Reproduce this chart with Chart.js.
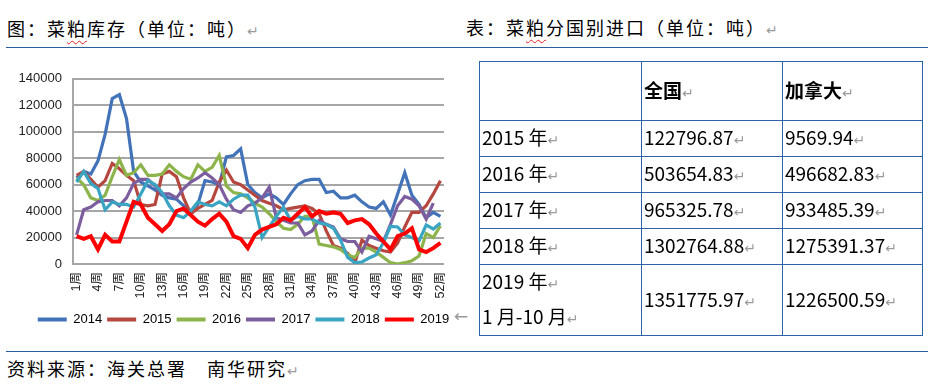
<!DOCTYPE html>
<html lang="zh-CN">
<head>
<meta charset="utf-8">
<title>菜粕库存</title>
<script src="https://cdn.jsdelivr.net/npm/chart.js@4.4.0/dist/chart.umd.min.js"></script>
<style>
  body { margin: 0; width: 928px; height: 391px; background: #fff; position: relative; overflow: hidden;
         font-family: 'Noto Sans CJK SC', sans-serif; color: #000; }
  .title { position: absolute; font-size: 18px; letter-spacing: 2px; line-height: 22px; white-space: nowrap; }
  .rm { color: #9a9a9a; font-size: 14px; letter-spacing: 0; font-weight: normal; font-family: 'DejaVu Sans', sans-serif; }
  .wavy { text-decoration: underline wavy #e02020; text-decoration-thickness: 1px; text-underline-offset: 4px; }
  .rule { position: absolute; left: 6px; width: 922px; height: 1px; background: #2b5d9c; }
  #wrap { position: absolute; left: 10px; top: 60px; width: 467px; height: 276px; }
  #imp { position: absolute; left: 479px; top: 61px; width: 443px; border-collapse: collapse; table-layout: fixed; }
  #imp td { border: 1.5px solid #2e62a8; padding: 0 0 0 2px; font-size: 19px; line-height: 31px;
            vertical-align: middle; white-space: nowrap; }
  #imp tr.head td { font-weight: bold; }
  .arrow { position: absolute; left: 454px; top: 306px; color: #999; font-size: 17px; font-family: 'DejaVu Sans', sans-serif; }
</style>
</head>
<body>

<div class="title" style="left:7px; top:17px;">图：菜<span class="wavy">粕</span>库存（单位：吨）<span class="rm">↵</span></div>
<div class="title" style="left:466px; top:16px;">表：菜<span class="wavy">粕</span>分国别进口（单位：吨）<span class="rm">↵</span></div>
<div class="rule" style="top:47px;"></div>

<div id="wrap"><canvas id="stock" width="467" height="276"></canvas></div>
<div class="arrow">←</div>

<table id="imp"></table>

<div class="rule" style="top:351px;"></div>
<div class="title" style="left:7px; top:357px;">资料来源：海关总署　南华研究<span class="rm">↵</span></div>

<script>
// 周次
const weeks = ['1周', '2周', '3周', '4周', '5周', '6周', '7周', '8周', '9周', '10周',
    '11周', '12周', '13周', '14周', '15周', '16周', '17周', '18周', '19周', '20周',
    '21周', '22周', '23周', '24周', '25周', '26周', '27周', '28周', '29周', '30周',
    '31周', '32周', '33周', '34周', '35周', '36周', '37周', '38周', '39周', '40周',
    '41周', '42周', '43周', '44周', '45周', '46周', '47周', '48周', '49周', '50周',
    '51周', '52周'];

// 菜粕库存（吨），按年份
const stock2014 = [65000, 70000, 68000, 78000, 98000, 125000, 128000, 110000, 70000, 62000,
    59000, 56000, 52000, 50000, 49000, 44000, 40000, 45000, 63000, 62000,
    60000, 81000, 82000, 87000, 60000, 54000, 50000, 53000, 50000, 45000,
    53000, 60000, 63000, 64000, 64000, 54000, 55000, 50000, 50000, 52000,
    47000, 43000, 42000, 47000, 37000, 53000, 69000, 52000, 45000, 35000,
    39000, 36000];
const stock2015 = [67000, 70000, 64000, 58000, 63000, 76000, 72000, 67000, 63000, 45000,
    44000, 45000, 68000, 70000, 66000, 50000, 38000, 42000, 45000, 48000,
    62000, 71000, 62000, 60000, 56000, 52000, 48000, 46000, 44000, 41000,
    42000, 43000, 44000, 42000, 38000, 25000, 14000, 12000, 8000, 1000,
    18000, 14000, 12000, 10000, 9000, 16000, 28000, 39000, 39000, 44000,
    53000, 63000];
const stock2016 = [65000, 60000, 50000, 48000, 52000, 66000, 79000, 67000, 69000, 75000,
    67000, 67000, 68000, 75000, 70000, 66000, 64000, 75000, 70000, 73000,
    82000, 59000, 54000, 53000, 50000, 46000, 43000, 38000, 32000, 27000,
    26000, 30000, 36000, 36000, 15000, 14000, 13000, 11000, 7000, 5000,
    12000, 12000, 9000, 5000, 1000, 0, 1000, 2500, 6000, 23000,
    20000, 29000];
const stock2017 = [22000, 41000, 43000, 47000, 48000, 48000, 44000, 50000, 61000, 64000,
    64000, 59000, 53000, 53000, 50000, 57000, 62000, 65000, 69000, 65000,
    60000, 49000, 41000, 39000, 44000, 46000, 50000, 58000, 35000, 33000,
    31000, 31000, 22000, 25000, 33000, 30000, 28000, 19000, 17000, 17000,
    9000, 21000, 19000, 17000, 30000, 44000, 51000, 49000, 44000, 34000,
    46000, null];
const stock2018 = [62000, 70000, 61000, 57000, 41000, 47000, 45000, 45000, 43000, 53000,
    63000, 60000, 54000, 44000, 37000, 35000, 40000, 47000, 45000, 44000,
    47000, 44000, 49000, 52000, 52000, 43000, 20000, 28000, 36000, 43000,
    33000, 36000, 34000, 34000, 31000, 30000, 27000, 18000, 5000, 1000,
    1500, 4500, 7000, 16000, 28500, 28000, 22000, 20000, 17500, 29500,
    26500, 31000];
const stock2019 = [21000, 19000, 21000, 11000, 22000, 17000, 17000, 32000, 47000, 45000,
    35000, 30000, 25000, 30000, 40000, 42000, 37000, 32000, 29000, 34000,
    38000, 32000, 21000, 19000, 12000, 22000, 26000, 28000, 30000, 35000,
    33000, 38000, 43000, 36000, 40000, 38000, 39000, 38000, 31000, 33000,
    34000, 30000, 23000, 17000, 11000, 21000, 23000, 27000, 11000, 9000,
    12000, 16000];

const yearNames = ['2014', '2015', '2016', '2017', '2018', '2019'];
const yTicks = [0, 20000, 40000, 60000, 80000, 100000, 120000, 140000];

// 表：菜粕分国别进口
const tableHead = ['', '全国', '加拿大'];
const tableYears = [['2015 年'], ['2016 年'], ['2017 年'], ['2018 年'], ['2019 年', '1 月-10 月']];
const tableNational = ['122796.87', '503654.83', '965325.78', '1302764.88', '1351775.97'];
const tableCanada = ['9569.94', '496682.83', '933485.39', '1275391.37', '1226500.59'];

document.addEventListener('DOMContentLoaded', function () {
    // 表格
    const rm = '<span class="rm">↵</span>';
    const rowHeights = [59, 34, 35, 35, 34, 67];
    let html = '<colgroup><col style="width:162px"><col style="width:141px"><col style="width:140px"></colgroup>';
    html += '<tr class="head" style="height:' + rowHeights[0] + 'px">' +
        tableHead.map(h => '<td>' + (h ? h + rm : '') + '</td>').join('') + '</tr>';
    tableYears.forEach(function (yr, i) {
        html += '<tr style="height:' + rowHeights[i + 1] + 'px">' +
            '<td>' + yr.map(t => t + rm).join('<br>') + '</td>' +
            '<td>' + tableNational[i] + rm + '</td>' +
            '<td>' + tableCanada[i] + rm + '</td></tr>';
    });
    document.getElementById('imp').innerHTML = html;

    // 图
    Chart.defaults.font.family = "'Liberation Sans', 'Noto Sans CJK SC', sans-serif";
    const colors = ['#4272b8', '#b5473f', '#8db44a', '#7c5e9f', '#3aa5c3', '#ff0000'];
    const allSeries = [stock2014, stock2015, stock2016, stock2017, stock2018, stock2019];
    const datasets = allSeries.map(function (d, i) {
        return {
            label: yearNames[i],
            data: d,
            borderColor: colors[i],
            backgroundColor: colors[i],
            borderWidth: i === 5 ? 4 : 3.2,
            pointRadius: 0,
            tension: 0,
            fill: false,
            order: 6 - i
        };
    });

    try {
        new Chart(document.getElementById('stock'), {
            type: 'line',
            data: { labels: weeks, datasets: datasets },
            options: {
                responsive: false,
                animation: false,
                layout: { padding: { top: 18, left: 0, right: 0, bottom: 0 } },
                plugins: {
                    tooltip: { enabled: false },
                    legend: {
                        position: 'bottom',
                        labels: {
                            boxWidth: 29,
                            boxHeight: 4,
                            padding: 5,
                            color: '#222',
                            font: { size: 13 },
                            generateLabels: chart => chart.data.datasets.map((ds, i) => ({
                                text: ds.label,
                                fillStyle: ds.borderColor,
                                strokeStyle: ds.borderColor,
                                lineWidth: 0,
                                hidden: false,
                                datasetIndex: i
                            }))
                        }
                    }
                },
                scales: {
                    x: {
                        offset: true,
                        grid: { display: false, drawTicks: false },
                        border: { display: false },
                        ticks: {
                            autoSkip: false,
                            minRotation: 90,
                            maxRotation: 90,
                            padding: 8,
                            color: '#222',
                            font: { size: 12.5 },
                            callback: (v, i) => (i % 3 === 0 ? weeks[i] : '')
                        },
                        afterFit: s => { s.height = 44; }
                    },
                    y: {
                        min: yTicks[0],
                        max: yTicks[yTicks.length - 1],
                        ticks: {
                            stepSize: yTicks[1] - yTicks[0],
                            padding: 11,
                            color: '#222',
                            font: { size: 13 },
                            callback: v => String(v)
                        },
                        grid: { color: '#a6a6a6', lineWidth: 2, drawTicks: false },
                        border: { display: true, color: '#a6a6a6', width: 2 },
                        afterFit: s => { s.width = 63; }
                    },
                    // 右侧留白，使图例居中于整幅图
                    yR: {
                        position: 'right',
                        grid: { display: false },
                        border: { display: false },
                        ticks: { display: false },
                        afterFit: s => { s.width = 33; }
                    }
                }
            }
        });
    } catch (err) {
        console.error('图表初始化失败:', err);
    }
});
</script>
</body>
</html>
